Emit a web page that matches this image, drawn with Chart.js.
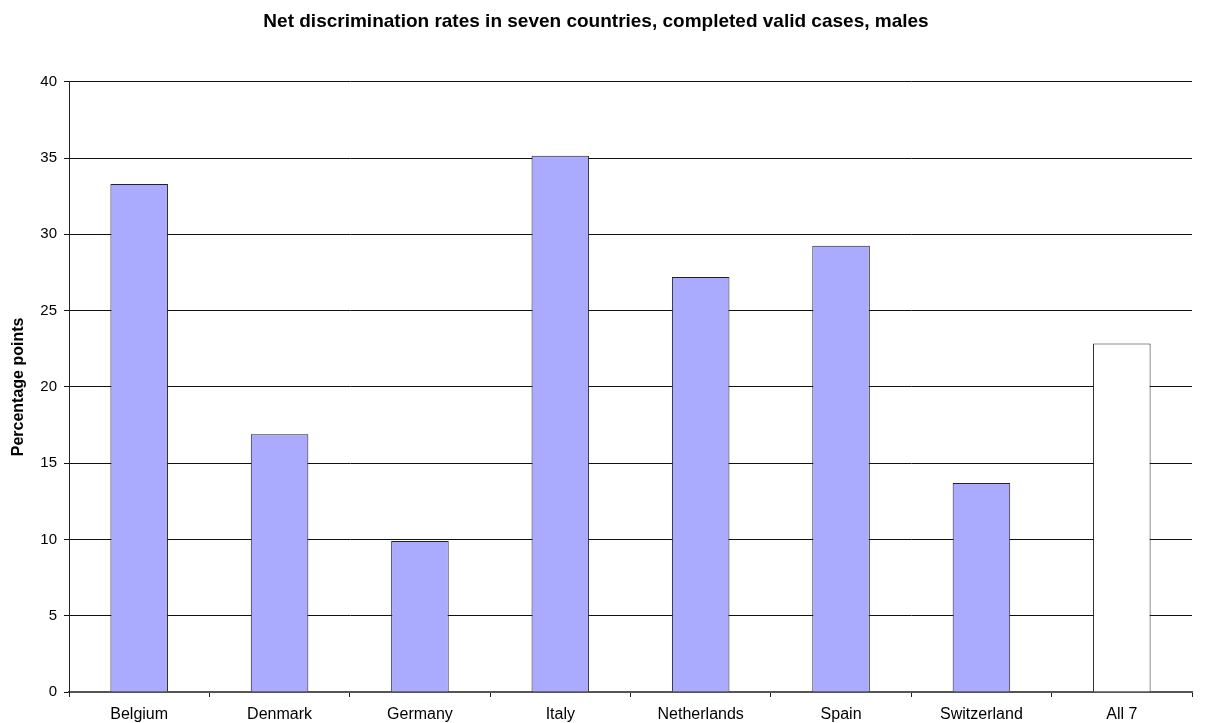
<!DOCTYPE html>
<html>
<head>
<meta charset="utf-8">
<title>Net discrimination rates</title>
<script src="https://cdn.jsdelivr.net/npm/chart.js@4/dist/chart.umd.min.js"></script>
<style>
    body { margin: 0; background: #fff; }
    #wrap { width: 1215px; height: 723px; }
</style>
</head>
<body>
<div id="wrap"><canvas id="barChart" width="1215" height="723"></canvas></div>
<script>
// Chart data
const countries = ['Belgium', 'Denmark', 'Germany', 'Italy', 'Netherlands', 'Spain', 'Switzerland', 'All 7'];
const netRates = [33.3, 16.9, 9.9, 35.15, 27.2, 29.25, 13.7, 22.85];
const yTicks = [0, 5, 10, 15, 20, 25, 30, 35, 40];

const fontFamily = '"Liberation Sans", Arial, sans-serif';

// Country bars are blue, the overall bar is white
const barColors = countries.map(c => c === 'All 7' ? '#ffffff' : '#aaaaff');

new Chart(document.getElementById('barChart').getContext('2d'), {
    type: 'bar',
    data: {
        labels: countries,
        datasets: [{
            data: netRates,
            backgroundColor: barColors,
            borderColor: '#222222',
            borderWidth: 1,
            borderSkipped: 'bottom',
            barPercentage: 0.82,
            categoryPercentage: 0.5
        }]
    },
    options: {
        responsive: false,
        animation: false,
        layout: { padding: { left: 0, right: 23, top: 0, bottom: 0 } },
        plugins: {
            legend: { display: false },
            tooltip: { enabled: false },
            title: {
                display: true,
                text: 'Net discrimination rates in seven countries, completed valid cases, males',
                color: '#000',
                font: { family: fontFamily, size: 19, weight: 'bold' },
                padding: { top: 10, bottom: 49 }
            }
        },
        scales: {
            x: {
                grid: { display: true, drawOnChartArea: false, drawTicks: true, tickLength: 5, color: '#222', offset: true },
                border: { color: '#555', width: 2 },
                ticks: { color: '#000', font: { family: fontFamily, size: 16 }, padding: 8, maxRotation: 0 },
                afterFit: (scale) => { scale.height = 31; }
            },
            y: {
                min: 0,
                max: 40,
                afterBuildTicks: (scale) => { scale.ticks = yTicks.map(v => ({ value: v })); },
                grid: { color: '#111', tickLength: 5, drawTicks: true },
                border: { color: '#222', width: 1 },
                ticks: { color: '#000', font: { family: fontFamily, size: 15 }, padding: 7 },
                title: {
                    display: true,
                    text: 'Percentage points',
                    color: '#000',
                    font: { family: fontFamily, size: 16, weight: 'bold' },
                    padding: { top: 9, bottom: 0 }
                },
                afterFit: (scale) => { scale.width = 69; }
            }
        }
    }
});
</script>
</body>
</html>
